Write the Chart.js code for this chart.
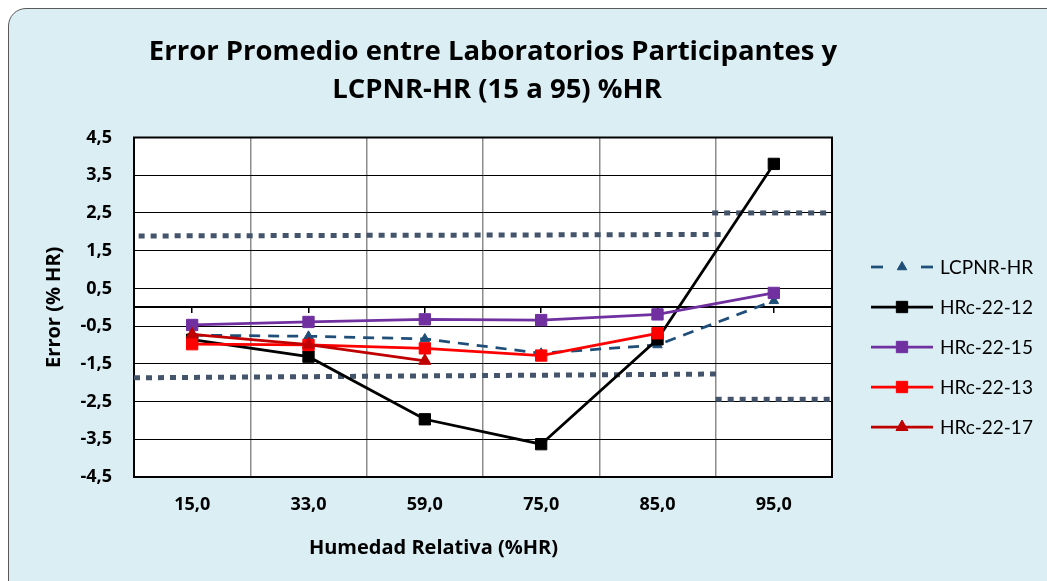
<!DOCTYPE html>
<html>
<head>
<meta charset="utf-8">
<script src="https://cdn.jsdelivr.net/npm/chart.js@4.4.1/dist/chart.umd.min.js"></script>
<style>
  html, body { margin: 0; padding: 0; background: #ffffff; }
  body { width: 1047px; height: 581px; position: relative; overflow: hidden; }
  #frame {
    position: absolute; left: 8px; top: 8px; width: 1100px; height: 620px;
    background: #DAEEF3; border: 1.5px solid #595959; border-radius: 18px;
    box-sizing: border-box;
  }
  #wrap { position: absolute; left: 0; top: 0; width: 1047px; height: 581px; }
</style>
</head>
<body>
<div id="frame"></div>
<div id="wrap"><canvas id="c" width="1047" height="581"></canvas></div>
<script>
// ---- Data ----
const categories = ['15,0', '33,0', '59,0', '75,0', '85,0', '95,0'];
const titleLines = ['Error Promedio entre Laboratorios Participantes y', 'LCPNR-HR (15 a 95) %HR'];
const xTitle = 'Humedad Relativa (%HR)';
const yTitle = 'Error (% HR)';

const seriesNames = ['LCPNR-HR', 'HRc-22-12', 'HRc-22-15', 'HRc-22-13', 'HRc-22-17'];
const lcpnr   = [-0.74, -0.77, -0.84, -1.22, -1.00, 0.17];
const hrc2212 = [-0.86, -1.31, -2.97, -3.63, -0.85, 3.80];
const hrc2215 = [-0.47, -0.39, -0.32, -0.34, -0.19, 0.38];
const hrc2213 = [-0.98, -1.00, -1.09, -1.28, -0.69, null];
const hrc2217 = [-0.72, -0.99, -1.42];

// Tolerance (limit) lines: positions along the category axis (0..6) and values
const limitUpperLeftX  = [0.04, 5.05];
const limitUpperLeftY  = [1.89, 1.93];
const limitLowerLeftX  = [0.00, 5.04];
const limitLowerLeftY  = [-1.87, -1.77];
const limitUpperRightX = [4.97, 5.98];
const limitUpperRightY = [2.50, 2.50];
const limitLowerRightX = [5.00, 5.98];
const limitLowerRightY = [-2.44, -2.44];

const yMin = -4.5, yMax = 4.5, yStep = 1;

// ---- Build chart ----
const FONT = '"Open Sans", Lato, "DejaVu Sans", sans-serif';
const LFONT = 'Lato, "Open Sans", "DejaVu Sans", sans-serif';
const toPts = (xs, ys) => xs.map((x, i) => ({ x: x, y: ys[i] }));

const limitStyle = {
  xAxisID: 'xl', borderColor: '#44546A', borderWidth: 5, borderDash: [6, 6],
  pointRadius: 0, fill: false, order: 10, isLimit: true, tension: 0, borderCapStyle: 'butt'
};

const datasets = [
  { label: seriesNames[0], data: lcpnr, borderColor: '#1F4E79', backgroundColor: '#1F4E79',
    borderWidth: 2.75, borderDash: [11, 8], pointStyle: 'triangle', pointRadius: 5.5,
    pointBorderWidth: 1, pointBorderColor: '#1F4E79', order: 5 },
  { label: seriesNames[1], data: hrc2212, borderColor: '#000000', backgroundColor: '#000000',
    borderWidth: 2.75, pointStyle: 'rect', pointRadius: 8, pointBorderWidth: 1,
    pointBorderColor: '#000000', order: 4 },
  { label: seriesNames[2], data: hrc2215, borderColor: '#7030A0', backgroundColor: '#7030A0',
    borderWidth: 2.75, pointStyle: 'rect', pointRadius: 8, pointBorderWidth: 1,
    pointBorderColor: '#7030A0', order: 3 },
  { label: seriesNames[3], data: hrc2213, borderColor: '#FF0000', backgroundColor: '#FF0000',
    borderWidth: 2.75, pointStyle: 'rect', pointRadius: 8, pointBorderWidth: 1,
    pointBorderColor: '#FF0000', order: 2 },
  { label: seriesNames[4], data: hrc2217, borderColor: '#C00000', backgroundColor: '#C00000',
    borderWidth: 2.75, pointStyle: 'triangle', pointRadius: 7, pointBorderWidth: 1,
    pointBorderColor: '#C00000', order: 1 },
  Object.assign({ label: 'limUL', data: toPts(limitUpperLeftX, limitUpperLeftY) }, limitStyle),
  Object.assign({ label: 'limLL', data: toPts(limitLowerLeftX, limitLowerLeftY) }, limitStyle),
  Object.assign({ label: 'limUR', data: toPts(limitUpperRightX, limitUpperRightY) }, limitStyle),
  Object.assign({ label: 'limLR', data: toPts(limitLowerRightX, limitLowerRightY) }, limitStyle)
];

const plotDecor = {
  id: 'plotDecor',
  beforeDraw(chart) {
    const a = chart.chartArea, ctx = chart.ctx;
    ctx.save();
    ctx.fillStyle = '#ffffff';
    ctx.fillRect(a.left, a.top, a.right - a.left, a.bottom - a.top);
    ctx.restore();
  },
  beforeDatasetsDraw(chart) {
    const a = chart.chartArea, ctx = chart.ctx;
    ctx.save();
    ctx.strokeStyle = '#000000';
    ctx.lineWidth = 2;
    ctx.strokeRect(a.left, a.top, a.right - a.left, a.bottom - a.top);
    ctx.restore();
  },
  afterDraw(chart) {
    const ctx = chart.ctx;
    ctx.save();
    // Title
    ctx.fillStyle = '#000000';
    ctx.textAlign = 'center';
    ctx.textBaseline = 'alphabetic';
    ctx.font = 'bold 27.5px ' + FONT;
    ctx.fillText(titleLines[0], 493, 60);
    ctx.fillText(titleLines[1], 497, 98);
    // X axis title
    ctx.font = 'bold 20px ' + FONT;
    ctx.textBaseline = 'middle';
    ctx.fillText(xTitle, 433.5, 548);
    // Legend
    ctx.font = '19px ' + LFONT;
    ctx.textAlign = 'left';
    const ds = chart.data.datasets.filter(d => !d.isLimit);
    ds.forEach((d, i) => {
      const y = 267 + i * 40;
      const x0 = 871, x1 = 933, xm = (x0 + x1) / 2;
      ctx.save();
      ctx.strokeStyle = d.borderColor;
      ctx.lineWidth = d.borderWidth;
      if (d.borderDash) {
        ctx.beginPath(); ctx.moveTo(x0, y); ctx.lineTo(x0 + 12, y); ctx.stroke();
        ctx.beginPath(); ctx.moveTo(x1 - 12, y); ctx.lineTo(x1, y); ctx.stroke();
      } else {
        ctx.beginPath(); ctx.moveTo(x0, y); ctx.lineTo(x1, y); ctx.stroke();
      }
      ctx.restore();
      ctx.save();
      ctx.fillStyle = d.backgroundColor;
      ctx.strokeStyle = d.pointBorderColor;
      ctx.lineWidth = d.pointBorderWidth;
      Chart.helpers.drawPoint(ctx, { pointStyle: d.pointStyle, radius: d.pointRadius, borderWidth: d.pointBorderWidth, rotation: 0 }, xm, y);
      ctx.restore();
      ctx.fillStyle = '#000000';
      ctx.fillText(d.label, 940, y + 1);
    });
    ctx.restore();
  }
};

new Chart(document.getElementById('c'), {
  type: 'line',
  data: { labels: categories, datasets: datasets },
  options: {
    responsive: false,
    animation: false,
    devicePixelRatio: 1,
    layout: { padding: { top: 137.5, right: 215, left: 0, bottom: 0 } },
    plugins: { legend: { display: false }, title: { display: false }, tooltip: { enabled: false } },
    elements: { line: { tension: 0 } },
    scales: {
      x: {
        type: 'category', offset: true, position: 'bottom',
        grid: { offset: true, color: '#8c8c8c', lineWidth: 1.5, drawTicks: false },
        border: { color: '#000000', width: 2 },
        ticks: { font: { family: FONT, size: 18, weight: 'bold' }, color: '#000000', padding: 17 },
        afterFit(s) { s.height = 104; }
      },
      x0: {
        type: 'category', axis: 'x', offset: true, position: { y: 0 },
        grid: { offset: false, drawOnChartArea: false, drawTicks: true, tickLength: 5, color: '#000000', lineWidth: 1.5 },
        border: { color: '#000000', width: 2 },
        ticks: { display: false }
      },
      xl: { type: 'linear', min: 0, max: 6, display: false },
      y: {
        type: 'linear', min: yMin, max: yMax,
        ticks: {
          stepSize: yStep,
          font: { family: FONT, size: 18, weight: 'bold' }, color: '#000000', padding: 22,
          callback: v => v.toFixed(1).replace('.', ',')
        },
        grid: { color: '#000000', lineWidth: 1, drawTicks: false },
        border: { color: '#000000', width: 2 },
        title: { display: true, text: yTitle, color: '#000000',
                 font: { family: FONT, size: 20, weight: 'bold' }, padding: { top: 42, bottom: 0 } },
        afterFit(s) { s.width = 134; }
      }
    }
  },
  plugins: [plotDecor]
});
</script>
</body>
</html>
